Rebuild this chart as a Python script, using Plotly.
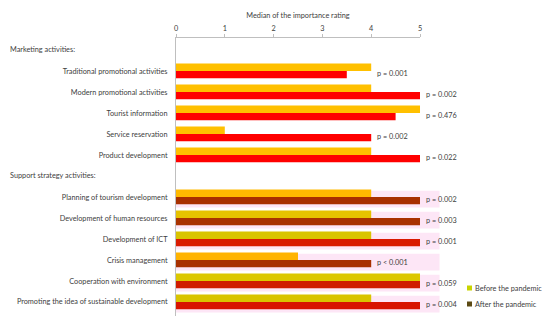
import plotly.graph_objects as go

# ---- data ----
marketing_items = ["Traditional promotional activities", "Modern promotional activities",
                   "Tourist information", "Service reservation", "Product development"]
support_items = ["Planning of tourism development", "Development of human resources",
                 "Development of ICT", "Crisis management", "Cooperation with environment",
                 "Promoting the idea of sustainable development"]
marketing_before = [4, 4, 5, 1, 4]
marketing_after = [3.5, 5, 4.5, 4, 5]
support_before = [4, 4, 4, 2.5, 5, 4]
support_after = [5, 5, 5, 4, 5, 5]
marketing_p = ["p = 0.001", "p = 0.002", "p = 0.476", "p = 0.002", "p = 0.022"]
support_p = ["p = 0.002", "p = 0.003", "p = 0.001", "p < 0.001", "p = 0.059", "p = 0.004"]
headers = ["Marketing activities:", "Support strategy activities:"]
series_names = ["Before the pandemic", "After the pandemic"]
x_ticks = [0, 1, 2, 3, 4, 5]

# ---- layout slots (header, items, header, items) ----
m_slots = [1 + i for i in range(len(marketing_items))]
s_header = 1 + len(marketing_items)
s_slots = [s_header + 1 + i for i in range(len(support_items))]

support_before_colors = ["#FFBA00", "#E6C200", "#D9C400", "#FFB400", "#DCC800", "#D9C400"]
support_after_colors = ["#A83000", "#A93200", "#D91A00", "#A83000", "#D01C00", "#D81400"]
legend_colors = ["#C8D400", "#5C4A14"]

FONT = "Lato, Carlito, Liberation Sans, sans-serif"
TXT = "#404040"
FS = 7.3

# figure geometry (page places the figure at an 8px body margin)
OFF = 8
W, H = 542, 316
ML, MR, MT, MB = 168, 130, 30, 8
PW, PH = W - ML - MR, H - MT - MB


def px2paper_x(px):
    return (px - OFF - ML) / PW


def px2paper_y(py):
    return 1 - (py - OFF - MT) / PH


fig = go.Figure()

# pink background bands for support rows
for s in s_slots:
    fig.add_shape(type="rect", xref="paper", yref="y", x0=0, x1=1.08,
                  y0=s - 0.3, y1=s + 0.5, fillcolor="#FDE6F6", line_width=0, layer="below")

fig.add_trace(go.Bar(y=m_slots + s_slots, x=marketing_before + support_before, orientation="h",
                     marker=dict(color=["#FFC000"] * len(m_slots) + support_before_colors, line_width=0),
                     name=series_names[0], showlegend=False, offsetgroup="b"))
fig.add_trace(go.Bar(y=m_slots + s_slots, x=marketing_after + support_after, orientation="h",
                     marker=dict(color=["#FF0000"] * len(m_slots) + support_after_colors, line_width=0),
                     name=series_names[1], showlegend=False, offsetgroup="a"))

# p-value annotations
for slots, b, a, p in [(m_slots, marketing_before, marketing_after, marketing_p),
                       (s_slots, support_before, support_after, support_p)]:
    for s, bv, av, pt in zip(slots, b, a, p):
        fig.add_annotation(x=max(bv, av) / 5, xref="paper", y=s + 0.1, yref="y",
                           text=pt, showarrow=False, xanchor="left", xshift=4,
                           font=dict(size=FS, color=TXT, family=FONT))

# section headers
for slot, h in zip([0, s_header], headers):
    fig.add_annotation(x=px2paper_x(8), xref="paper", y=slot, yref="y", text=h,
                       showarrow=False, xanchor="left", font=dict(size=FS, color=TXT, family=FONT))

# legend (small squares + labels)
for i, (nm, col) in enumerate(zip(series_names, legend_colors)):
    cy = 288 + 16 * i
    fig.add_shape(type="rect", xref="paper", yref="paper",
                  x0=px2paper_x(467), x1=px2paper_x(472),
                  y0=px2paper_y(cy + 2.5), y1=px2paper_y(cy - 2.5),
                  fillcolor=col, line_width=0)
    fig.add_annotation(x=px2paper_x(473), xref="paper", y=px2paper_y(cy), yref="paper",
                       text=nm, showarrow=False, xanchor="left", yanchor="middle",
                       font=dict(size=FS, color=TXT, family=FONT))

fig.update_layout(
    width=W, height=H,
    margin=dict(l=ML, r=MR, t=MT, b=MB, autoexpand=False),
    paper_bgcolor="white", plot_bgcolor="rgba(0,0,0,0)",
    barmode="group", bargap=0.3, bargroupgap=0,
    font=dict(family=FONT, size=FS, color=TXT),
    showlegend=False,
    xaxis=dict(side="top", range=[0, 5], tickvals=x_ticks, showgrid=False, zeroline=False,
               showline=True, linecolor="#BFBFBF", linewidth=1, ticks="outside", ticklen=3,
               tickcolor="#BFBFBF", tickfont=dict(size=FS, color=TXT), automargin=False,
               title=dict(text="Median of the importance rating", font=dict(size=FS, color=TXT),
                          standoff=4)),
    yaxis=dict(range=[12.67, -0.57], tickvals=m_slots + s_slots, automargin=False,
               ticktext=marketing_items + support_items, showgrid=False, zeroline=False,
               showline=True, linecolor="#BFBFBF", linewidth=1, ticks="", ticklabelstandoff=6,
               tickfont=dict(size=FS, color=TXT)),
)

fig.write_html("out.html")
